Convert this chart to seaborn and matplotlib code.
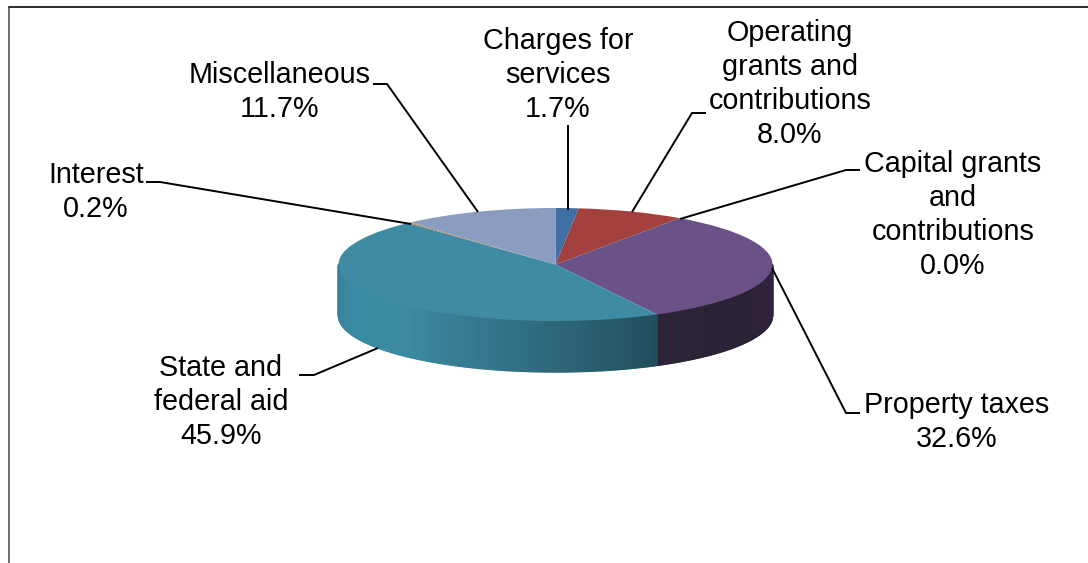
import numpy as np
import matplotlib
matplotlib.use("Agg")
import matplotlib.pyplot as plt
import seaborn as sns

# Revenue shares by source, clockwise from twelve o'clock
sources = ["Charges for\nservices", "Operating\ngrants and\ncontributions",
           "Capital grants\nand\ncontributions", "Property taxes",
           "State and\nfederal aid", "Interest", "Miscellaneous"]
shares = [1.7, 8.0, 0.0, 32.6, 45.9, 0.2, 11.7]
top_colors = ["#3F6FA4", "#A1403D", "#86A44A", "#6A5186", "#3F8BA3", "#C97B3A", "#8A9DC0"]
wall_ramps = {3: ["#2F2440", "#2C2236", "#2D2338"],
              4: ["#214E5C", "#2C6474", "#35778C", "#3B8AA2", "#3A8CA5", "#37809A"]}

W, H = 1088, 563
CX, CY, RX, RY, DEPTH = 555.5, 264.5, 217.0, 56.5, 51.0

sns.set_theme(style="white")
plt.rcParams["font.family"] = ["Liberation Sans", "DejaVu Sans"]

fig = plt.figure(figsize=(W / 100, H / 100), dpi=100, facecolor="white")

# The disc lives in unit-circle coordinates on a squashed, full-figure axes
ax = fig.add_axes([0, 0, 1, 1])
edges = np.concatenate([[0.0], np.cumsum(shares)]) / sum(shares) * 360.0

for i, (start, stop) in enumerate(zip(edges[:-1], edges[1:])):
    lo, hi = max(start, 90.0), min(stop, 270.0)
    if hi <= lo or i not in wall_ramps:
        continue
    steps = max(int((hi - lo) * 2), 2)
    ramp = sns.blend_palette(wall_ramps[i], steps)
    bounds = np.linspace(lo, hi, steps + 1)
    for a, b, col in zip(bounds[:-1], bounds[1:], ramp):
        t = np.radians(np.linspace(a, b, 4))
        xs, ys = np.sin(t), np.cos(t)
        drop = DEPTH / RY
        ax.fill(np.r_[xs, xs[::-1]], np.r_[ys, ys[::-1] - drop],
                facecolor=col, edgecolor=col, lw=1.0, zorder=1)

wedges, _ = ax.pie(shares, colors=top_colors, startangle=90, counterclock=False,
                   radius=1.0, center=(0, 0), wedgeprops={"linewidth": 0})
for w in wedges:
    w.set_zorder(2)
ax.set_aspect("auto")
ax.set_xlim(-CX / RX, (W - CX) / RX)
ax.set_ylim(-(H - CY) / RY, CY / RY)
ax.axis("off")

# Overlay in pixel units for the frame, leader lines and labels
ov = fig.add_axes([0, 0, 1, 1], facecolor="none")
ov.set_xlim(0, W)
ov.set_ylim(H, 0)
ov.axis("off")

ov.plot([8.5, 8.5], [H, 7], color="#555555", lw=1.2)
ov.plot([8.5, W], [7, 7], color="#1a1a1a", lw=1.3)

label_centers = [(558, 75), (790, 84), (953, 215), (957, 422), (221, 402), (96, 192), (280, 92)]
leaders = [
    [(567.5, 125), (567.5, 210)],
    [(706, 113), (692, 113), (632, 212)],
    [(860, 170), (846, 170), (680, 219)],
    [(772, 268), (846, 413), (860, 413)],
    [(378, 348), (314, 375), (299, 375)],
    [(146, 182), (160, 182), (411, 224)],
    [(373, 84), (387, 84), (478, 212)],
]

for name, share, (x, y), path in zip(sources, shares, label_centers, leaders):
    ov.text(x, y, f"{name}\n{share:.1f}%", ha="center", va="center",
            fontsize=20.7, color="black", linespacing=1.27)
    px, py = zip(*path)
    ov.plot(px, py, color="black", lw=1.4, solid_capstyle="butt")

fig.savefig("out.png", dpi=100, facecolor="white")
